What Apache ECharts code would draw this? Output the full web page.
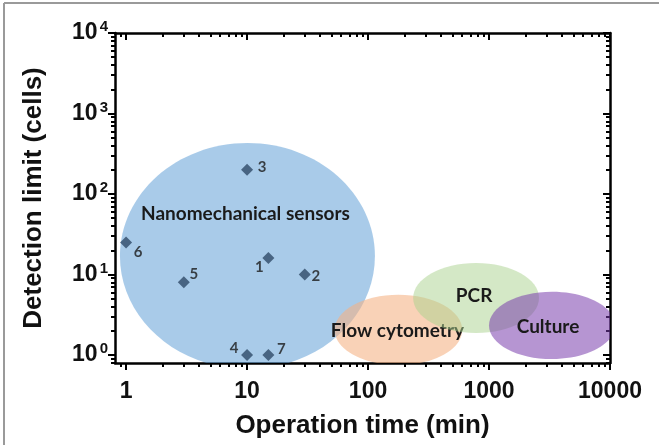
<!DOCTYPE html>
<html>
<head>
<meta charset="utf-8">
<script src="https://cdn.jsdelivr.net/npm/echarts@6/dist/echarts.min.js"></script>
<style>
html,body{margin:0;padding:0;background:#fff;}
#chart{width:659px;height:445px;}
</style>
</head>
<body>
<div id="chart"></div>
<script>
// ---- data ----
const pointLabels = ['1', '2', '3', '4', '5', '6', '7'];
const opTime = [15, 30, 10, 10, 3, 1, 15];          // min
const detLimit = [16, 10, 200, 1, 8, 25, 1];        // cells

const methods = ['Nanomechanical sensors', 'Flow cytometry', 'PCR', 'Culture'];
const methodTimeLow = [0.89, 53, 236, 1000];
const methodTimeHigh = [114, 600, 2590, 11000];
const methodLimitLow = [0.67, 0.75, 1.88, 0.89];
const methodLimitHigh = [430, 5.6, 13.9, 6.1];

const xMajor = [1, 10, 100, 1000, 10000];
const yMajor = [1, 10, 100, 1000, 10000];
const xMin = 0.81, xMax = 10000;
const yMin = 0.795, yMax = 10000;

// ---- styling (not data) ----
function minorTicks(lo, hi) {
  const out = [];
  for (let e = Math.floor(Math.log10(lo)); e <= Math.ceil(Math.log10(hi)); e++) {
    for (let m = 2; m <= 9; m++) {
      const v = m * Math.pow(10, e);
      if (v >= lo && v <= hi) out.push(v);
    }
  }
  return out;
}
const xMinor = minorTicks(xMin, xMax);
const yMinor = minorTicks(yMin, yMax);

const methodColors = {
  'Nanomechanical sensors': 'rgba(91,155,213,0.52)',
  'Flow cytometry': 'rgba(244,177,131,0.58)',
  'PCR': 'rgba(169,209,142,0.5)',
  'Culture': 'rgba(120,60,172,0.54)'
};
const methodLabelOffset = {
  'Nanomechanical sensors': [-2, -42],
  'Flow cytometry': [-1, 1],
  'PCR': [-2, -2],
  'Culture': [-4, 1]
};
const pointLabelOffset = {
  '1': [-9, 9], '2': [11, 2], '3': [15, -3], '4': [-13, -7],
  '5': [10, -8], '6': [12, 10], '7': [13, -6]
};

const AX = '"Liberation Sans", Arial, sans-serif';
const LBL = 'Lato, "Open Sans", sans-serif';
const axisLineStyle = { color: '#000', width: 2.5 };
const tickStyle = { color: '#000', width: 2 };

function xAxisDef(pos, ticks, len, inside, showLine, showLabel, extra) {
  return Object.assign({
    type: 'log', min: xMin, max: xMax, position: pos, gridIndex: 0,
    axisLine: { show: showLine, onZero: false, lineStyle: axisLineStyle },
    axisTick: { show: true, inside: inside, length: len, customValues: ticks, lineStyle: tickStyle },
    axisLabel: showLabel ? {
      customValues: xMajor, fontSize: 23, fontWeight: 'bold', color: '#111',
      fontFamily: AX, margin: 17, formatter: v => String(Math.round(v))
    } : { show: false },
    splitLine: { show: false }, minorTick: { show: false }
  }, extra || {});
}
function yAxisDef(pos, ticks, len, inside, showLine, showLabel, extra) {
  return Object.assign({
    type: 'log', min: yMin, max: yMax, position: pos, gridIndex: 0,
    axisLine: { show: showLine, onZero: false, lineStyle: axisLineStyle },
    axisTick: { show: true, inside: inside, length: len, customValues: ticks, lineStyle: tickStyle },
    axisLabel: showLabel ? {
      customValues: yMajor, margin: 7,
      formatter: v => '{b|10}{s|' + Math.round(Math.log10(v)) + '}',
      rich: {
        b: { fontSize: 23, fontWeight: 'bold', color: '#111', fontFamily: AX },
        s: { fontSize: 15, fontWeight: 'bold', color: '#111', fontFamily: AX, verticalAlign: 'top', padding: [0, 0, 12, 2] }
      }
    } : { show: false },
    splitLine: { show: false }, minorTick: { show: false }
  }, extra || {});
}

const ellipseData = methods.map((m, i) => ({
  name: m,
  value: [methodTimeLow[i], methodTimeHigh[i], methodLimitLow[i], methodLimitHigh[i]]
}));

const scatterData = opTime.map((t, i) => ({
  name: pointLabels[i],
  value: [t, detLimit[i]],
  label: { offset: pointLabelOffset[pointLabels[i]] }
}));

const chart = echarts.init(document.getElementById('chart'), null, { renderer: 'canvas' });
chart.setOption({
  animation: false,
  backgroundColor: '#fff',
  grid: { left: 115, right: 49, top: 33, bottom: 82, containLabel: false },
  graphic: [
    { type: 'line', z: -10, shape: { x1: 4, y1: 3, x2: 659, y2: 3 }, style: { stroke: '#9a9a9a', lineWidth: 2 } },
    { type: 'line', z: -10, shape: { x1: 4, y1: 3, x2: 4, y2: 445 }, style: { stroke: '#9a9a9a', lineWidth: 2 } }
  ],
  xAxis: [
    xAxisDef('bottom', xMajor, 7, false, true, true, {
      name: 'Operation time (min)', nameLocation: 'middle', nameGap: 50,
      nameTextStyle: { fontSize: 26, fontWeight: 'bold', color: '#111', fontFamily: AX }
    }),
    xAxisDef('bottom', xMinor, 4, false, false, false),
    xAxisDef('top', xMajor, 7, true, true, false),
    xAxisDef('top', xMinor, 4, true, false, false)
  ],
  yAxis: [
    yAxisDef('left', yMajor, 7, false, true, true, {
      name: 'Detection limit (cells)', nameLocation: 'middle', nameGap: 68,
      nameTextStyle: { fontSize: 26, fontWeight: 'bold', color: '#111', fontFamily: AX }
    }),
    yAxisDef('left', yMinor, 4, false, false, false),
    yAxisDef('right', yMajor, 7, true, true, false),
    yAxisDef('right', yMinor, 4, true, false, false)
  ],
  series: [
    {
      type: 'custom', xAxisIndex: 0, yAxisIndex: 0, clip: true, z: 1,
      data: ellipseData,
      renderItem: function (params, api) {
        const p0 = api.coord([api.value(0), api.value(2)]);
        const p1 = api.coord([api.value(1), api.value(3)]);
        const cx = (p0[0] + p1[0]) / 2, cy = (p0[1] + p1[1]) / 2;
        const rx = Math.abs(p1[0] - p0[0]) / 2, ry = Math.abs(p1[1] - p0[1]) / 2;
        const name = methods[params.dataIndex];
        const off = methodLabelOffset[name];
        return {
          type: 'group',
          children: [
            { type: 'ellipse', shape: { cx: cx, cy: cy, rx: rx, ry: ry },
              style: { fill: methodColors[name] } },
            { type: 'text', x: cx + off[0], y: cy + off[1],
              style: { text: name, fill: '#1a1a1a', fontSize: 19, fontWeight: 'bold',
                fontFamily: LBL, align: 'center', verticalAlign: 'middle' } }
          ]
        };
      }
    },
    {
      type: 'scatter', xAxisIndex: 0, yAxisIndex: 0, z: 5,
      symbol: 'diamond', symbolSize: 12,
      itemStyle: { color: '#2f4a68' },
      label: {
        show: true, position: 'inside', formatter: '{b}',
        fontSize: 15, fontWeight: 'bold', color: '#1a1a1a', fontFamily: LBL
      },
      data: scatterData
    }
  ]
});
</script>
</body>
</html>
